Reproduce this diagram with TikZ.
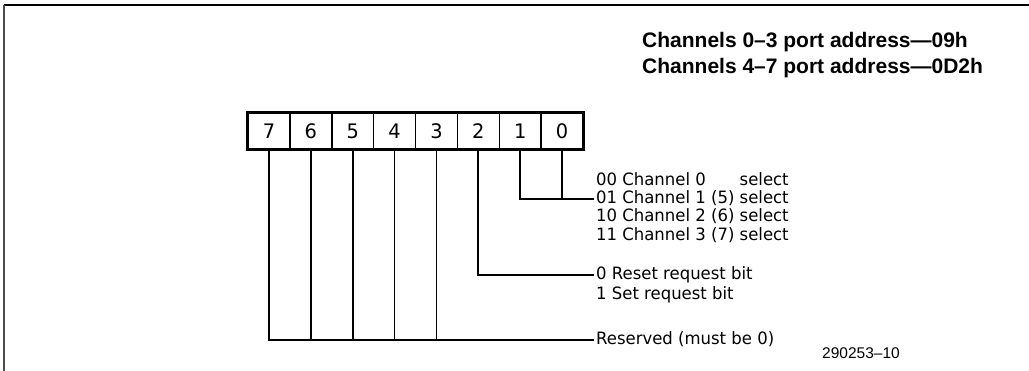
\documentclass[tikz,border=0pt]{standalone}
\usepackage{fontspec}
\usepackage{tikz}
\usetikzlibrary{positioning}
\newfontfamily\headfont{Liberation Sans}
\newfontfamily\plotfont[FakeStretch=0.97]{DejaVu Sans}
\tikzset{arista/.style={line width=1.8pt}}
\tikzset{celda/.style={draw, line width=1.5pt, minimum width=41.875pt, minimum height=36pt, inner sep=0pt, font=\plotfont\fontsize{20}{20}\selectfont}}
\tikzset{rotulo/.style={anchor=west, inner sep=2pt, text height=12pt, text depth=3pt, font=\plotfont\fontsize{17}{17}\selectfont}}
\tikzset{titulo/.style={anchor=west, inner sep=0pt, font=\headfont\bfseries\fontsize{21}{21}\selectfont}}

\begin{document}
\begin{tikzpicture}[x=1pt, y=1pt]
            \useasboundingbox (0,0) rectangle (1029,371);
            % marco
            \draw[line width=2pt] (4,366) -- (1029,366);
            \draw[line width=2pt, black!70] (4,366) -- (4,0);

            \node[titulo] (t1) at (642,329) {Channels 0–3 port address—09h};
            \node[titulo] (t2) at (642,303) {Channels 4–7 port address—0D2h};

            % registro
            \foreach \i in {0,...,7}
                \node[celda] (b\i) at ({583-41.875*(\i+0.5)},240) {\i};
            \draw[line width=3pt] (b7.north west) rectangle (b0.south east);

            \node[rotulo] (sel0) at (594,190) {00 Channel 0\phantom{ (5)} select};
            \node[rotulo] (sel1) at (594,172) {01 Channel 1 (5) select};
            \node[rotulo] (sel2) at (594,154) {10 Channel 2 (6) select};
            \node[rotulo] (sel3) at (594,135) {11 Channel 3 (7) select};
            \node[rotulo] (rst) at (594,96) {0 Reset request bit};
            \node[rotulo] (set) at (594,76) {1 Set request bit};
            \node[rotulo] (rsv) at (594,31) {Reserved (must be 0)};
            \node[anchor=west, inner sep=0pt, font=\headfont\fontsize{15.5}{15.5}\selectfont] (fig) at (822,18) {290253–10};

            \draw[arista] (b1.south) |- (sel1.west);
            \draw[arista] (b0.south) -- (b0.south |- sel1.west);
            \draw[arista] (b2.south) |- (rst.west);
            \draw[arista] (b7.south) |- (rsv.west);
            \foreach \i in {3,...,6}
                \draw[arista] (b\i.south) -- (b\i.south |- rsv.west);
        \end{tikzpicture}
\end{document}
